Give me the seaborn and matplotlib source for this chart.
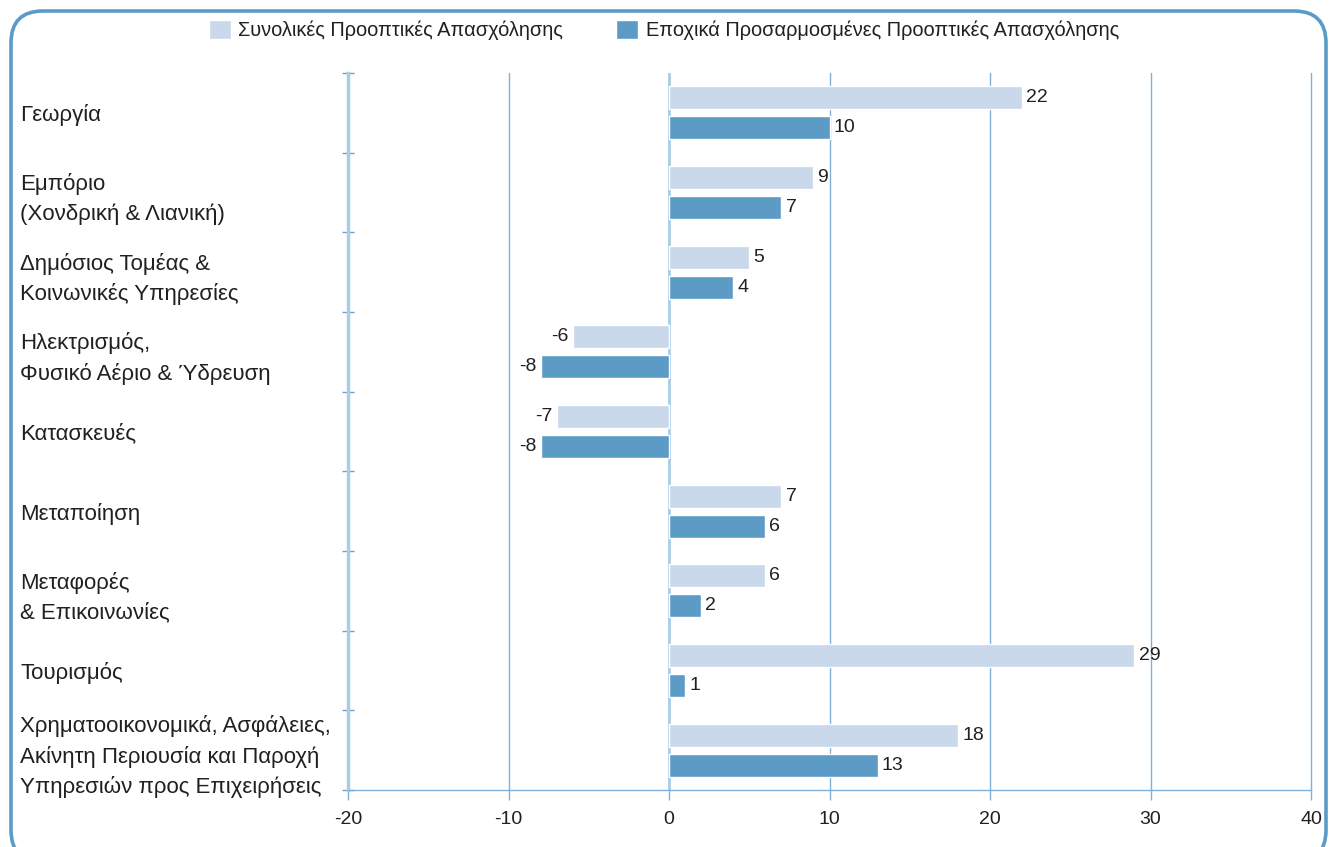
import numpy as np
import pandas as pd
import matplotlib
matplotlib.use("Agg")
import matplotlib.pyplot as plt
import seaborn as sns
from matplotlib.patches import Patch, FancyBboxPatch
from matplotlib.transforms import IdentityTransform
from matplotlib.ticker import FixedLocator

# Δεδομένα
sectors = [
    'Γεωργία',
    'Εμπόριο\n(Χονδρική & Λιανική)',
    'Δημόσιος Τομέας &\nΚοινωνικές Υπηρεσίες',
    'Ηλεκτρισμός,\nΦυσικό Αέριο & Ύδρευση',
    'Κατασκευές',
    'Μεταποίηση',
    'Μεταφορές\n& Επικοινωνίες',
    'Τουρισμός',
    'Χρηματοοικονομικά, Ασφάλειες,\nΑκίνητη Περιουσία και Παροχή\nΥπηρεσιών προς Επιχειρήσεις',
]
total_values = [22, 9, 5, -6, -7, 7, 6, 29, 18]
seasonal_values = [10, 7, 4, -8, -8, 6, 2, 1, 13]
series_names = ['Συνολικές Προοπτικές Απασχόλησης',
                'Εποχικά Προσαρμοσμένες Προοπτικές Απασχόλησης']
x_ticks = [-20, -10, 0, 10, 20, 30, 40]

light = '#c9d8ea'
dark = '#5b9bc6'
grid_col = '#7fb1d8'
text_col = '#231f20'
fs = 14

df = pd.DataFrame({
    'sector': sectors * 2,
    'value': total_values + seasonal_values,
    'series': [series_names[0]] * len(sectors) + [series_names[1]] * len(sectors),
})

sns.set_style('white')
plt.rcParams['font.family'] = ['Liberation Sans', 'DejaVu Sans']
plt.rcParams['text.color'] = text_col

fig = plt.figure(figsize=(13.3, 8.47), dpi=100)
ax = fig.add_axes([348 / 1330, 1 - 790 / 847, (1311 - 348) / 1330, (790 - 73) / 847])

sns.barplot(data=df, x='value', y='sector', hue='series', orient='h',
            palette=[light, dark], width=0.75, gap=0.23, legend=False,
            saturation=1, ax=ax, zorder=3)

for cont in ax.containers:
    ax.bar_label(cont, fmt='%d', padding=3, fontsize=fs, color=text_col)

ax.set_xlim(-20, 40)
ax.set_ylim(len(sectors) - 0.5, -0.5)
ax.set_xticks(x_ticks)
ax.set_xticklabels([str(t) for t in x_ticks])
ax.set_xlabel('')
ax.set_ylabel('')

# πλέγμα
for t in x_ticks[1:]:
    if t == 0:
        ax.axvline(t, color='#a9cde5', lw=2, zorder=2)
    else:
        ax.axvline(t, color=grid_col, lw=1, zorder=2, clip_on=False)

for side in ['top', 'right']:
    ax.spines[side].set_visible(False)
ax.spines['left'].set_color('#a9cde5')
ax.spines['left'].set_linewidth(2.5)
ax.spines['bottom'].set_color(grid_col)
ax.spines['bottom'].set_linewidth(1)

ax.tick_params(axis='x', length=7, width=1, color=grid_col, pad=8,
               labelsize=fs, labelcolor=text_col, bottom=True)
ax.tick_params(axis='y', which='major', length=0, pad=236,
               labelsize=16, labelcolor=text_col)
ax.yaxis.set_minor_locator(FixedLocator(np.arange(-0.5, len(sectors), 1.0)))
ax.tick_params(axis='y', which='minor', direction='inout', length=8,
               width=1, color='#6fa3cc', left=True)
for lab in ax.get_yticklabels():
    lab.set_horizontalalignment('left')
    lab.set_linespacing(1.5)
    lab.set_y(lab.get_position()[1])

handles = [Patch(facecolor=light, label=series_names[0]),
           Patch(facecolor=dark, label=series_names[1])]
fig.legend(handles=handles, loc='center', bbox_to_anchor=(0.499, 1 - 30 / 847),
           ncol=2, frameon=False, fontsize=14.4, handlelength=1.12,
           handleheight=1.12, handletextpad=0.36, columnspacing=2.65)

# πλαίσιο με στρογγυλεμένες γωνίες
border = FancyBboxPatch((11, -15), 1315, 836 + 15, boxstyle='round,pad=0,rounding_size=32',
                        transform=IdentityTransform(), fill=False,
                        edgecolor='#5b9bc8', linewidth=2.6)
fig.add_artist(border)

fig.savefig('out.png', dpi=100)
